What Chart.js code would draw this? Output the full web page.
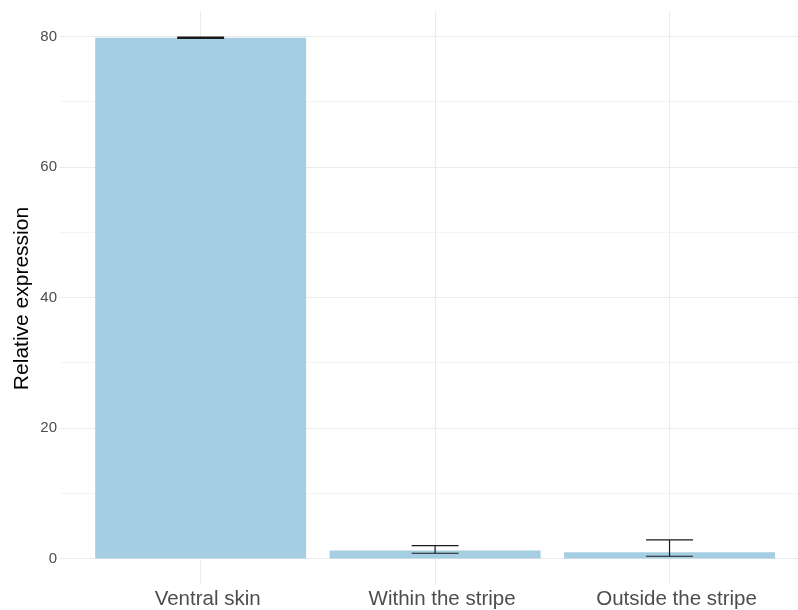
<!DOCTYPE html>
<html>
<head>
<meta charset="utf-8">
<script src="https://cdn.jsdelivr.net/npm/chart.js@4"></script>
<style>
  html, body { margin: 0; padding: 0; background: #fff; }
  #wrap { width: 798px; height: 610px; }
</style>
</head>
<body>
<div id="wrap"><canvas id="myChart" width="798" height="610"></canvas></div>
<script>
(() => {
  'use strict'

  // dados
  const categories = ['Ventral skin', 'Within the stripe', 'Outside the stripe']
  const expression = [79.8, 1.27, 1.0]
  const errLow = [79.7, 0.86, 0.4]
  const errHigh = [79.9, 2.03, 2.9]
  const yTicks = [0, 10, 20, 30, 40, 50, 60, 70, 80]

  const fontFamily = '"Liberation Sans", Arial, sans-serif'

  // barras de erro desenhadas com as escalas do próprio gráfico
  const errorBars = {
    id: 'errorBars',
    afterDatasetsDraw(chart) {
      const { ctx, scales: { x, y } } = chart
      ctx.save()
      ctx.strokeStyle = '#1a1a1a'
      ctx.lineWidth = 1.2
      categories.forEach((c, i) => {
        const cx = x.getPixelForValue(i + 1)
        const half = (x.getPixelForValue(1.1) - x.getPixelForValue(1))
        const yl = y.getPixelForValue(errLow[i])
        const yh = y.getPixelForValue(errHigh[i])
        ctx.beginPath()
        ctx.moveTo(cx, yl); ctx.lineTo(cx, yh)
        ctx.moveTo(cx - half, yl); ctx.lineTo(cx + half, yl)
        ctx.moveTo(cx - half, yh); ctx.lineTo(cx + half, yh)
        ctx.stroke()
      })
      ctx.restore()
    }
  }

  const ctx = document.getElementById('myChart')

  new Chart(ctx, {
    type: 'bar',
    data: {
      datasets: [{
        data: expression.map((v, i) => ({ x: i + 1, y: v })),
        backgroundColor: '#A6CEE3',
        borderWidth: 0,
        barPercentage: 0.9,
        categoryPercentage: 1.0
      }]
    },
    options: {
      responsive: false,
      animation: false,
      layout: { padding: { top: 11, right: 0, left: 0, bottom: 0 } },
      plugins: {
        legend: { display: false },
        tooltip: { enabled: false }
      },
      scales: {
        x: {
          type: 'linear',
          min: 0.4,
          max: 3.548,
          offset: false,
          afterBuildTicks: (s) => { s.ticks = categories.map((c, i) => ({ value: i + 1 })) },
          afterFit: (s) => { s.height = 25 },
          border: { display: false },
          grid: { color: '#EBEBEB', lineWidth: 1, drawTicks: false, offset: false },
          ticks: {
            padding: 2,
            labelOffset: 7,
            color: '#4D4D4D',
            font: { family: fontFamily, size: 20.5 },
            callback: (v) => categories[Math.round(v) - 1]
          }
        },
        y: {
          min: -4.0,
          max: 83.75,
          afterBuildTicks: (s) => { s.ticks = yTicks.map(v => ({ value: v })) },
          afterFit: (s) => { s.width = 60 },
          border: { display: false },
          grid: {
            drawTicks: false,
            color: '#EBEBEB',
            lineWidth: (c) => (c.tick && c.tick.value % 20 === 0 ? 1 : 0.6)
          },
          title: {
            display: true,
            text: 'Relative expression',
            color: '#000',
            font: { family: fontFamily, size: 21 },
            padding: { top: 10, bottom: 0 }
          },
          ticks: {
            padding: 3,
            color: '#4D4D4D',
            font: { family: fontFamily, size: 15 },
            callback: (v) => (v % 20 === 0 ? String(v) : '')
          }
        }
      }
    },
    plugins: [errorBars]
  })
})()
</script>
</body>
</html>
